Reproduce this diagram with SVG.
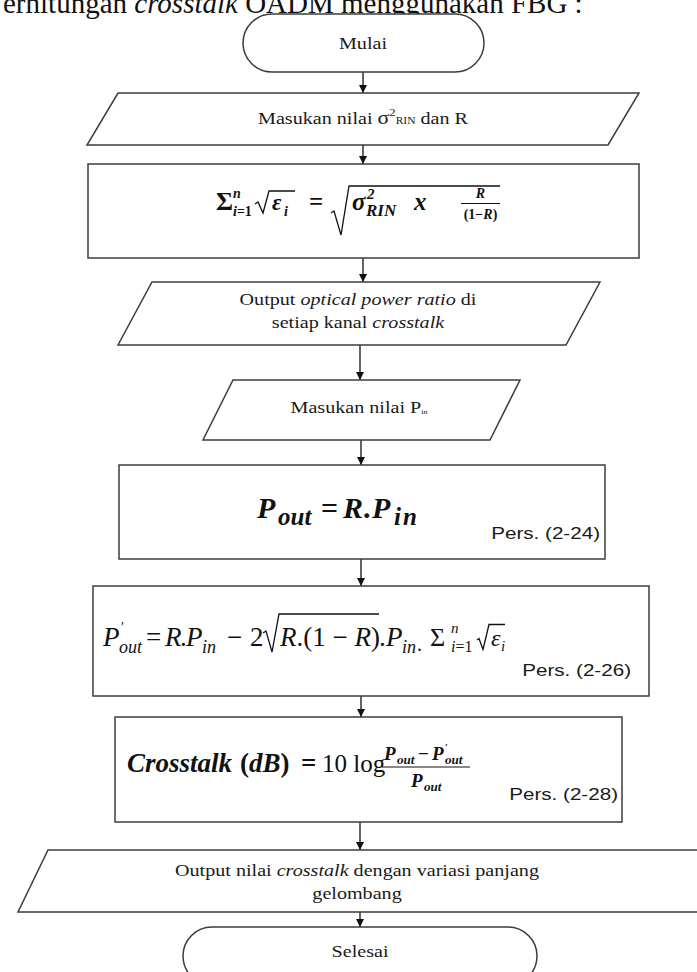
<svg xmlns="http://www.w3.org/2000/svg" width="697" height="972" viewBox="0 0 697 972">
<defs>
<marker id="ah" markerWidth="8" markerHeight="8" refX="8" refY="4" orient="auto" markerUnits="userSpaceOnUse">
<path d="M0,0 L8,4 L0,8 z" fill="#111"/>
</marker>
<style>
.shape{fill:#fff;stroke:#3c3c3c;stroke-width:1.5}
.lbl{font-family:"Liberation Serif","Times New Roman",serif;font-size:17.5px;fill:#1a1a1a}
.pers{font-family:"Liberation Sans",Arial,sans-serif;font-size:16.5px;fill:#1a1a1a}
.m{font-family:"Liberation Serif","Times New Roman",serif;font-style:italic;fill:#111}
.b{font-weight:bold}
.up{font-style:normal}
.rad{fill:none;stroke:#111;stroke-width:1.3}
.conn line{stroke:#111;stroke-width:1.3;marker-end:url(#ah)}
</style>
</defs>
<rect width="697" height="972" fill="#fff"/>

<!-- heading line above the chart -->
<text x="3" y="13" font-family="Liberation Serif, Times New Roman, serif" font-size="29" fill="#111">erhitungan <tspan font-style="italic">crosstalk</tspan> OADM menggunakan FBG :</text>

<!-- flow connectors -->
<g id="connectors" class="conn">
<line x1="363" y1="72" x2="363" y2="93"/>
<line x1="363" y1="145" x2="363" y2="164"/>
<line x1="363" y1="258" x2="363" y2="282"/>
<line x1="360" y1="345" x2="360" y2="380"/>
<line x1="361" y1="440" x2="361" y2="465"/>
<line x1="361" y1="559" x2="361" y2="586"/>
<line x1="361" y1="696" x2="361" y2="717"/>
<line x1="360" y1="822" x2="360" y2="850"/>
<line x1="360" y1="912" x2="360" y2="927"/>
</g>

<!-- start terminal -->
<g id="n-start">
<rect class="shape" x="243" y="14" width="241" height="58" rx="29" ry="29"/>
<text class="lbl" transform="translate(363,49) scale(1.15,1)" text-anchor="middle">Mulai</text>
</g>

<!-- input: RIN variance and reflectivity -->
<g id="n-input-rin">
<polygon class="shape" points="118,93 639,93 608,145 87,145"/>
<text class="lbl" transform="translate(363,124) scale(1.15,1)" text-anchor="middle">Masukan nilai <tspan font-size="19">σ</tspan><tspan font-size="11" dy="-8">2</tspan><tspan font-size="10" dy="8">RIN</tspan> dan R</text>
</g>

<!-- crosstalk power sum -->
<g id="n-sum">
<rect class="shape" x="88" y="164" width="551" height="94"/>
<g class="m b">
<text class="up" x="216" y="210" font-size="26">Σ</text>
<text x="233" y="198" font-size="14">n</text>
<text x="233" y="216" font-size="14">i<tspan class="up">=1</tspan></text>
<path class="rad" d="M255,204 l3,-2 l5,11 l6,-22 h26"/>
<text x="272" y="210" font-size="23">ε</text>
<text x="284" y="216" font-size="14">i</text>
<text class="up" x="309" y="210" font-size="25">=</text>
<path class="rad" d="M331,213 l3,-2 l7,24 l8,-49 h151"/>
<text x="352" y="210" font-size="25">σ</text>
<text x="367" y="199" font-size="15">2</text>
<text x="366" y="216" font-size="17">RIN</text>
<text x="414" y="210" font-size="25">x</text>
<text x="480.5" y="198" font-size="14" text-anchor="middle">R</text>
<line x1="461" y1="203.5" x2="500" y2="203.5" stroke="#111" stroke-width="1.2"/>
<text x="480.5" y="219" font-size="14" text-anchor="middle"><tspan class="up">(1−</tspan>R<tspan class="up">)</tspan></text>
</g>
</g>

<!-- output: optical power ratio -->
<g id="n-out-ratio">
<polygon class="shape" points="152,282 600,282 566,345 118,345"/>
<text class="lbl" transform="translate(358,305) scale(1.15,1)" text-anchor="middle">Output <tspan font-style="italic">optical power ratio</tspan> di</text>
<text class="lbl" transform="translate(358,328) scale(1.15,1)" text-anchor="middle">setiap kanal <tspan font-style="italic">crosstalk</tspan></text>
</g>

<!-- input: launched power -->
<g id="n-input-pin">
<polygon class="shape" points="233,380 520,380 490,440 203,440"/>
<text class="lbl" transform="translate(359,413) scale(1.15,1)" text-anchor="middle">Masukan nilai  P<tspan font-size="7" dy="1">in</tspan></text>
</g>

<!-- reflected output power -->
<g id="n-pout">
<rect class="shape" x="119" y="465" width="486" height="94"/>
<g class="m b">
<text x="257" y="518" font-size="30">P</text>
<text x="278" y="525" font-size="25">out</text>
<text class="up" x="321" y="518" font-size="30">=</text>
<text x="343" y="518" font-size="30">R</text>
<text class="up" x="363" y="518" font-size="30">.</text>
<text x="372" y="518" font-size="30">P</text>
<text x="394" y="525" font-size="25" letter-spacing="2">in</text>
</g>
<text class="pers" transform="translate(600,539) scale(1.25,1)" text-anchor="end">Pers. (2-24)</text>
</g>

<!-- output power with crosstalk -->
<g id="n-pout-prime">
<rect class="shape" x="93" y="586" width="556" height="110"/>
<g class="m">
<text x="103" y="646" font-size="27">P</text>
<text class="up" x="121" y="632" font-size="14">′</text>
<text x="119" y="653" font-size="18">out</text>
<text class="up" x="146" y="646" font-size="27">=</text>
<text x="165" y="646" font-size="27">R</text>
<text class="up" x="180" y="646" font-size="27">.</text>
<text x="186" y="646" font-size="27">P</text>
<text x="202" y="653" font-size="18">in</text>
<text class="up" x="227" y="646" font-size="27">−</text>
<text class="up" x="250" y="646" font-size="27">2</text>
<path class="rad" d="M263,633 l3,-2 l6,21 l7,-38 h100"/>
<text x="280" y="646" font-size="27">R<tspan class="up">.(1</tspan> <tspan class="up">−</tspan> R<tspan class="up">)</tspan></text>
<text class="up" x="379" y="646" font-size="27">.</text>
<text x="386" y="646" font-size="27">P</text>
<text x="402" y="653" font-size="18">in</text>
<text class="up" x="417" y="651" font-size="20">.</text>
<text class="up" x="430" y="646" font-size="26">Σ</text>
<text x="451" y="633" font-size="15">n</text>
<text x="451" y="652" font-size="16">i<tspan class="up">=1</tspan></text>
<path class="rad" d="M477,640 l2,-1.5 l4,11 l6,-25 h16"/>
<text x="491" y="646" font-size="24">ε</text>
<text x="501" y="651" font-size="15">i</text>
</g>
<text class="pers" transform="translate(631,676) scale(1.25,1)" text-anchor="end">Pers. (2-26)</text>
</g>

<!-- crosstalk level in dB -->
<g id="n-crosstalk">
<rect class="shape" x="115" y="717" width="507" height="105"/>
<g class="m b">
<text x="127" y="772" font-size="27">Crosstalk</text>
<text x="240" y="772" font-size="27"><tspan class="up">(</tspan>dB<tspan class="up">)</tspan></text>
<text class="up" x="301" y="772" font-size="27">=</text>
<text class="up" x="322" y="772" font-size="25" font-weight="normal">10 log</text>
<text x="384" y="760" font-size="19">P</text>
<text x="397" y="764" font-size="13">out</text>
<text class="up" x="418" y="760" font-size="19">−</text>
<text x="432" y="760" font-size="19">P</text>
<text class="up" x="445" y="751" font-size="10">′</text>
<text x="445" y="764" font-size="13">out</text>
<line x1="382" y1="767" x2="470" y2="767" stroke="#111" stroke-width="1.2"/>
<text x="411" y="787" font-size="19">P</text>
<text x="424" y="791" font-size="13">out</text>
</g>
<text class="pers" transform="translate(618,800) scale(1.25,1)" text-anchor="end">Pers. (2-28)</text>
</g>

<!-- output: crosstalk per wavelength -->
<g id="n-out-crosstalk">
<polygon class="shape" points="48,850 740,850 710,912 18,912"/>
<text class="lbl" transform="translate(357,876) scale(1.15,1)" text-anchor="middle">Output nilai <tspan font-style="italic">crosstalk</tspan> dengan variasi panjang</text>
<text class="lbl" transform="translate(357,899) scale(1.15,1)" text-anchor="middle">gelombang</text>
</g>

<!-- end terminal -->
<g id="n-end">
<rect class="shape" x="183" y="927" width="354" height="58" rx="29" ry="29"/>
<text class="lbl" transform="translate(360,957) scale(1.15,1)" text-anchor="middle">Selesai</text>
</g>
</svg>
